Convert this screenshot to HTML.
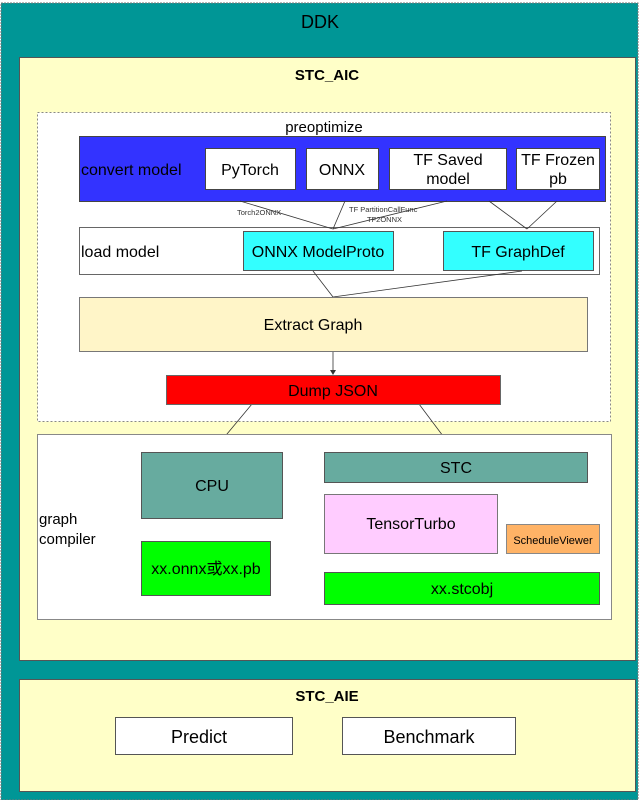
<!DOCTYPE html>
<html><head><meta charset="utf-8"><style>
html,body{margin:0;padding:0;background:#fff;}
svg{display:block;font-family:"Liberation Sans","Noto Sans CJK SC",sans-serif;}
</style></head><body>
<svg width="639" height="800" viewBox="0 0 639 800" xmlns="http://www.w3.org/2000/svg">
<rect x="1" y="3" width="637" height="797" fill="#009696" stroke="#777" stroke-dasharray="2,1"/>
<text x="320" y="28" font-size="18" text-anchor="middle">DDK</text>
<rect x="19.5" y="57.5" width="616" height="603" fill="#ffffc8" stroke="#555"/>
<text x="327" y="80" font-size="15" font-weight="bold" text-anchor="middle">STC_AIC</text>
<rect x="37.5" y="112.5" width="573" height="309" fill="#fff" stroke="#888" stroke-dasharray="2,2"/>
<text x="324" y="132" font-size="15" text-anchor="middle">preoptimize</text>
<rect x="79.5" y="136.5" width="526" height="65" fill="#3333ff" stroke="#444"/>
<text x="81" y="175" font-size="16">convert model</text>
<g fill="#fff" stroke="#444">
<rect x="205.5" y="148.5" width="90" height="41"/>
<rect x="306.5" y="148.5" width="72" height="41"/>
<rect x="389.5" y="148.5" width="117" height="41"/>
<rect x="516.5" y="148.5" width="83" height="41"/>
</g>
<g font-size="16" text-anchor="middle">
<text x="250" y="175">PyTorch</text>
<text x="342" y="175">ONNX</text>
<text x="448" y="165">TF Saved</text><text x="448" y="184">model</text>
<text x="558" y="165">TF Frozen</text><text x="558" y="184">pb</text>
</g>
<rect x="79.5" y="227.5" width="520" height="47" fill="#fff" stroke="#666"/>
<text x="81" y="257" font-size="16">load model</text>
<rect x="243.5" y="231.5" width="150" height="39" fill="#33ffff" stroke="#555"/>
<rect x="443.5" y="231.5" width="150" height="39" fill="#33ffff" stroke="#555"/>
<text x="318" y="257" font-size="16" text-anchor="middle">ONNX ModelProto</text>
<text x="518" y="257" font-size="16" text-anchor="middle">TF GraphDef</text>
<g stroke="#333" stroke-width="0.8" fill="none">
<line x1="240" y1="201" x2="333" y2="229"/>
<line x1="345" y1="201" x2="333" y2="229"/>
<line x1="447" y1="201" x2="333" y2="229"/>
<line x1="489" y1="201" x2="527" y2="229"/>
<line x1="557" y1="201" x2="527" y2="229"/>
<line x1="313" y1="271" x2="333" y2="297"/>
<line x1="522" y1="271" x2="333" y2="297"/>
<line x1="333" y1="352" x2="333" y2="370"/>
<line x1="252" y1="404" x2="212" y2="452"/>
<line x1="419" y1="404" x2="455" y2="452"/>
</g>
<polygon points="330,370 336,370 333,375" fill="#333"/>
<g font-size="7.5" fill="#333">
<text x="237" y="215">Torch2ONNX</text>
<text x="349" y="212">TF PartitionCallFunc</text>
<text x="367" y="222">TF2ONNX</text>
</g>
<rect x="79.5" y="297.5" width="508" height="54" fill="#fff5c8" stroke="#777"/>
<text x="313" y="330" font-size="16" text-anchor="middle">Extract Graph</text>
<rect x="166.5" y="375.5" width="334" height="29" fill="#ff0000" stroke="#666"/>
<text x="333" y="396" font-size="16" text-anchor="middle">Dump JSON</text>
<rect x="37.5" y="434.5" width="574" height="185" fill="#fff" stroke="#888"/>
<text x="39" y="524" font-size="15">graph</text>
<text x="39" y="544" font-size="15">compiler</text>
<rect x="141.5" y="452.5" width="141" height="66" fill="#67ab9f" stroke="#555"/>
<text x="212" y="491" font-size="16" text-anchor="middle">CPU</text>
<rect x="324.5" y="452.5" width="263" height="30" fill="#67ab9f" stroke="#555"/>
<text x="456" y="473" font-size="16" text-anchor="middle">STC</text>
<rect x="324.5" y="494.5" width="173" height="59" fill="#ffccff" stroke="#777"/>
<text x="411" y="529" font-size="16" text-anchor="middle">TensorTurbo</text>
<rect x="506.5" y="524.5" width="93" height="29" fill="#ffb366" stroke="#888"/>
<text x="553" y="544" font-size="11" text-anchor="middle">ScheduleViewer</text>
<rect x="141.5" y="541.5" width="129" height="54" fill="#00ff00" stroke="#555"/>
<text x="206" y="574" font-size="16" text-anchor="middle">xx.onnx或xx.pb</text>
<rect x="324.5" y="572.5" width="275" height="32" fill="#00ff00" stroke="#555"/>
<text x="462" y="594" font-size="16" text-anchor="middle">xx.stcobj</text>
<rect x="19.5" y="679.5" width="616" height="112" fill="#ffffc8" stroke="#555"/>
<text x="327" y="701" font-size="15" font-weight="bold" text-anchor="middle">STC_AIE</text>
<rect x="115.5" y="717.5" width="177" height="37" fill="#fff" stroke="#555"/>
<rect x="342.5" y="717.5" width="173" height="37" fill="#fff" stroke="#555"/>
<text x="199" y="743" font-size="18" text-anchor="middle">Predict</text>
<text x="429" y="743" font-size="18" text-anchor="middle">Benchmark</text>
</svg>
</body></html>
